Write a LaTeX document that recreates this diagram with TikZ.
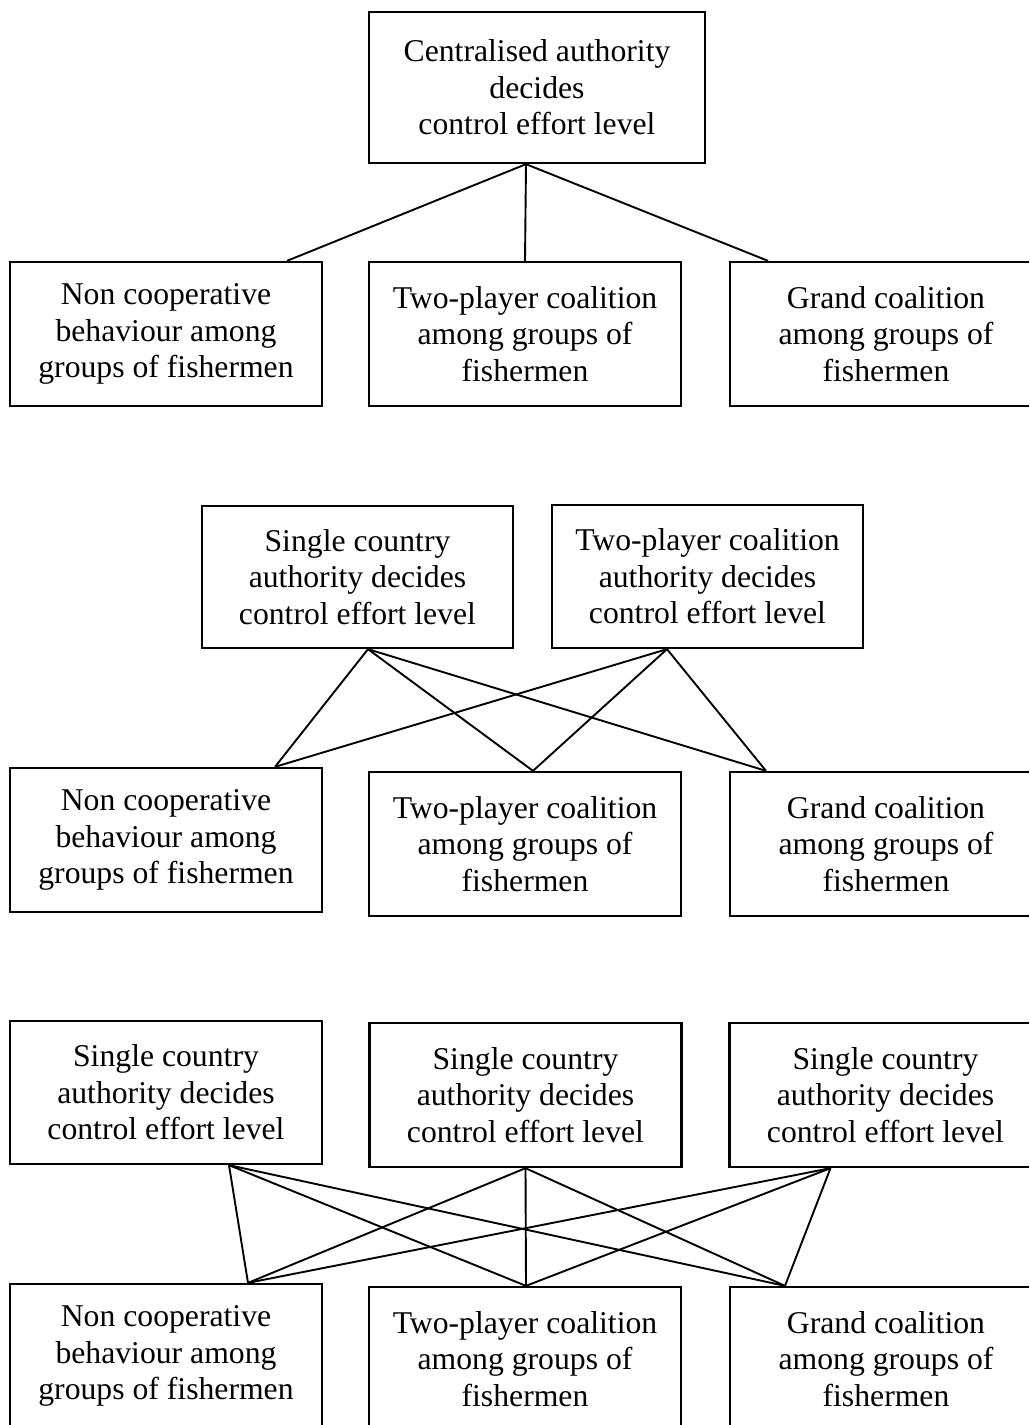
\documentclass[tikz,border=0pt]{standalone}
\usepackage{fontspec}
\setmainfont{Liberation Serif}

\begin{document}
\begin{tikzpicture}[
	x=1pt, y=-1pt,
	box/.style = {draw, line width=2.3pt, minimum width=312pt, minimum height=144pt,
		inner sep=0pt, align=center, font=\fontsize{31.7}{36.5}\selectfont},
	edge/.style = {line width=1.9pt},
]

	%% Page size, boxes on the right run off the edge
	\path [use as bounding box] (0,0) rectangle (1029,1425);
	\clip (0,0) rectangle (1029,1425);

	%% The authorities (top row of each section)
	\node [box, minimum width=336pt, minimum height=151pt] at (537,87.5) (1-t1)
		{Centralised authority\\decides\\control effort level};
	\node [box, minimum width=311pt, minimum height=142pt] at (357.5,577) (2-t1)
		{Single country\\authority decides\\control effort level};
	\node [box, minimum width=311pt, minimum height=143pt] at (707.5,576.5) (2-t2)
		{Two-player coalition\\authority decides\\control effort level};
	\node [box, minimum height=143pt] at (166,1092.5) (3-t1)
		{Single country\\authority decides\\control effort level};
	\node [box] at (525.5,1095) (3-t2)
		{Single country\\authority decides\\control effort level};
	\node [box] at (885.5,1095) (3-t3)
		{Single country\\authority decides\\control effort level};

	%% The groups of fishermen (bottom row of each section)
	\foreach \s/\ya/\yb in {1/334/334, 2/840/844, 3/1356/1359}{%
		\node [box] at (166,\ya) (\s-1) {Non cooperative\\behaviour among\\groups of fishermen};
		\node [box] at (525,\yb) (\s-2) {Two-player coalition\\among groups of\\fishermen};
		\node [box] at (886,\yb) (\s-3) {Grand coalition\\among groups of\\fishermen};
	}

	%% Draw the connections
	%% Each list: top node / shift, then bottom node / shift
	\foreach \t/\dt in {1-t1/-11pt}{%
		\foreach \b/\db in {1-1/121pt, 1-2/0pt, 1-3/-118pt}{%
			\draw [edge] ([xshift=\dt]\t.south) -- ([xshift=\db]\b.north);
		}
	}
	\foreach \t/\dt in {2-t1/10.5pt, 2-t2/-40.5pt}{%
		\foreach \b/\db in {2-1/109pt, 2-2/8pt, 2-3/-120pt}{%
			\draw [edge] ([xshift=\dt]\t.south) -- ([xshift=\db]\b.north);
		}
	}
	\foreach \t/\dt in {3-t1/63pt, 3-t2/0pt, 3-t3/-55pt}{%
		\foreach \b/\db in {3-1/82pt, 3-2/1pt, 3-3/-101pt}{%
			\draw [edge] ([xshift=\dt]\t.south) -- ([xshift=\db]\b.north);
		}
	}

\end{tikzpicture}
\end{document}
